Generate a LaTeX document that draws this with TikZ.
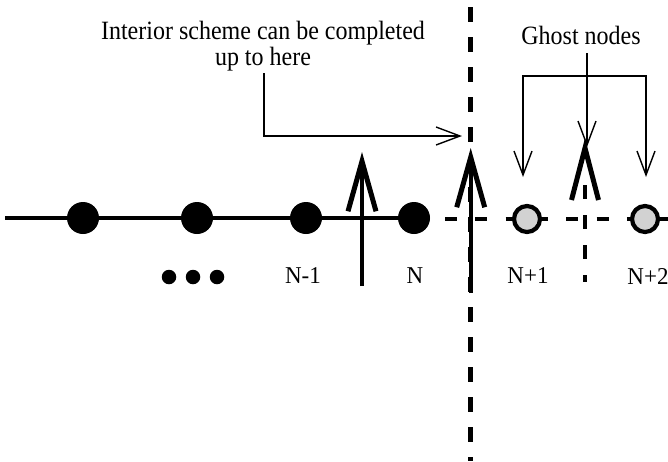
\documentclass[tikz,border=0pt]{standalone}
\usepackage{fontspec}
\setmainfont{Liberation Serif}
\usetikzlibrary{arrows.meta}
\begin{document}
\begin{tikzpicture}[x=1pt,y=-1pt,
  heavy/.style={line width=4pt},
  fineline/.style={line width=1.4pt},
  bignode/.style={circle,fill=black,minimum size=32pt,inner sep=0pt},
  ghostnode/.style={circle,draw=black,line width=4.2pt,fill=gray!35,minimum size=26pt,inner sep=0pt},
  dotnode/.style={circle,fill=black,minimum size=14.5pt,inner sep=0pt},
  lbl/.style={font=\fontsize{23}{26}\selectfont, inner sep=0pt, yscale=1.05, transform shape},
  heading/.style={font=\fontsize{24}{24}\selectfont, align=center, inner sep=0pt, yscale=1.1, transform shape},
  bigarrow/.style={line width=4pt, -{Straight Barb[length=50pt,width=28pt,line width=5pt]}},
  finetip/.tip={Straight Barb[length=24pt,width=18pt]},
]
\useasboundingbox (0,0) rectangle (668,461);

% boundary dashed line
\coordinate (vtop) at (470.7,0);
\coordinate (vbot) at (470.7,461);
\draw[line width=4.5pt, dash pattern=on 15pt off 15pt, dash phase=23pt] (vtop) -- (vbot);

% main solid line
\coordinate (L0) at (5,218);
\coordinate (L1) at (414,218);
\draw[heavy] (L0) -- (L1);

% dashed line through ghost region
\coordinate (D0) at (445,219);
\coordinate (D1) at (668,219);
\draw[heavy, dash pattern=on 12pt off 18.3pt] (D0) -- (D1);

% middle dashed marker with V head
\coordinate (m0) at (585,185);
\coordinate (m1) at (585,282);
\draw[heavy, dash pattern=on 14pt off 16pt] (m0) -- (m1);
\coordinate (mtip) at (585,148);
\coordinate (ml) at (571.5,200);
\coordinate (mr) at (598.5,200);
\draw[line width=5pt] (ml) -- (mtip) -- (mr);

% interior nodes
\node[bignode] (n1) at (83,218) {};
\node[bignode] (n2) at (197,218) {};
\node[bignode] (n3) at (306,218) {};
\node[bignode] (n4) at (414,218) {};

% ghost nodes
\node[ghostnode] (g1) at (527,219) {};
\node[ghostnode] (g2) at (645,219) {};

% ellipsis dots
\node[dotnode] (d1) at (169,277) {};
\node[dotnode] (d2) at (193,277) {};
\node[dotnode] (d3) at (217,277) {};

% labels
\node[lbl] (tN1) at (303,276) {N-1};
\node[lbl] (tN) at (415,276) {N};
\node[lbl] (tP1) at (528,276) {N+1};
\node[lbl] (tP2) at (648,276) {N+2};

% thick arrows
\coordinate (a1s) at (362,286);
\coordinate (a1e) at (362,152);
\draw[bigarrow] (a1s) -- (a1e);
\coordinate (a2s) at (470.7,293);
\coordinate (a2e) at (470.7,148);
\draw[bigarrow] (a2s) -- (a2e);

% interior scheme annotation
\node[heading] (itext) at (263,46) {Interior scheme can be completed\\up to here};
\coordinate (ia) at (264,73);
\coordinate (ib) at (462,136);
\draw[fineline, -finetip] (ia) |- (ib);

% ghost nodes annotation
\node[heading] (gtext) at (581,35) {Ghost nodes};
\coordinate (gc0) at (587,53);
\coordinate (gc1) at (587,147);
\draw[fineline, -finetip] (gc0) -- (gc1);
\coordinate (gk1) at (523,76);
\coordinate (gk2) at (646,76);
\coordinate (gt1) at (523,177);
\coordinate (gt2) at (646,177);
\draw[fineline, line join=miter, finetip-finetip] (gt1) -- (gk1) -- (gk2) -- (gt2);
\end{tikzpicture}
\end{document}
